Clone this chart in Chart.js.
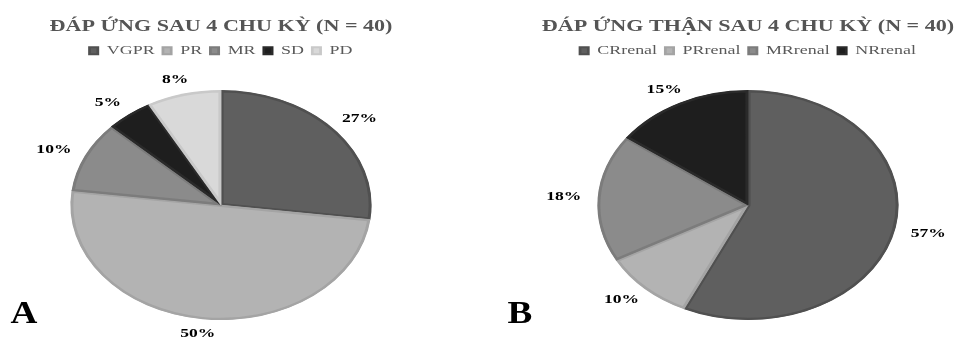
<!DOCTYPE html>
<html><head><meta charset="utf-8">
<script src="https://cdn.jsdelivr.net/npm/chart.js@4/dist/chart.umd.min.js"></script>
<style>
html,body{margin:0;padding:0;background:#fff;}
body{width:956px;height:338px;overflow:hidden;position:relative;}
.panel{position:absolute;top:0;height:360px;}
</style></head><body>
<div class="panel" style="left:0;width:442px"><canvas id="ca"></canvas></div>
<div class="panel" style="left:478px;width:540px"><canvas id="cb"></canvas></div>
<script>
const titleA = 'ĐÁP ỨNG SAU 4 CHU KỲ (N = 40)';
const labelsA = ['VGPR', 'PR', 'MR', 'SD', 'PD'];
const valuesA = [27, 50, 10, 5, 8];
const fillA = ['#5f5f5f', '#b3b3b3', '#8b8b8b', '#1e1e1e', '#d9d9d9'];
const edgeA = ['#505050', '#a4a4a4', '#7c7c7c', '#2a2a2a', '#c9c9c9'];

const titleB = 'ĐÁP ỨNG THẬN SAU 4 CHU KỲ (N = 40)';
const labelsB = ['CRrenal', 'PRrenal', 'MRrenal', 'NRrenal'];
const valuesB = [57, 10, 18, 15];
const fillB = ['#5f5f5f', '#b3b3b3', '#8b8b8b', '#1e1e1e'];
const edgeB = ['#505050', '#a4a4a4', '#7c7c7c', '#2a2a2a'];

const TS = 1.38;   // horizontal stretch of title and legend
const TL = 1.35;   // horizontal stretch of value labels
const ES = 1.31;   // horizontal pie stretch (ellipse)
const FONT = '"Liberation Serif", "Times New Roman", serif';

function stretchPlugin(letter, letterX, letterY) {
  return {
    id: 'stretch',
    beforeDraw(chart) {
      const c = chart.ctx, w = chart.width / 2;
      c.save(); c.translate(w, 0); c.scale(TS, 1); c.translate(-w, 0);
    },
    beforeDatasetsDraw(chart) {
      const c = chart.ctx;
      c.restore();
      const a = chart.getDatasetMeta(0).data[0];
      c.save(); c.translate(a.x, a.y); c.scale(ES, 1); c.translate(-a.x, -a.y);
    },
    afterDatasetsDraw(chart) { chart.ctx.restore(); },
    afterDraw(chart) {
      const c = chart.ctx;
      const meta = chart.getDatasetMeta(0);
      const vals = chart.data.datasets[0].data;
      meta.data.forEach((arc, i) => {
        const p = arc.getProps(['x', 'y', 'startAngle', 'endAngle', 'outerRadius'], true);
        const m = (p.startAngle + p.endAngle) / 2;
        const ex = p.x + ES * p.outerRadius * Math.cos(m);
        const ey = p.y + p.outerRadius * Math.sin(m);
        const lx = ex + Math.cos(m) * 34, ly = ey + Math.sin(m) * 15;
        c.save(); c.translate(lx, ly); c.scale(TL, 1);
        c.font = 'bold 13px ' + FONT; c.fillStyle = '#000';
        c.textAlign = 'center'; c.textBaseline = 'middle';
        c.fillText(vals[i] + '%', 0, 0); c.restore();
      });
      c.save(); c.translate(letterX, letterY); c.scale(1.2, 1);
      c.font = 'bold 31px ' + FONT; c.fillStyle = '#000';
      c.textAlign = 'center'; c.textBaseline = 'alphabetic';
      c.fillText(letter, 0, 0); c.restore();
    }
  };
}

function makeChart(id, title, labels, values, fill, edge, letter, lx) {
  return new Chart(document.getElementById(id), {
    type: 'pie',
    data: {
      labels: labels,
      datasets: [{ data: values, backgroundColor: fill, borderColor: edge,
        borderWidth: 2, borderAlign: 'inner', radius: 115 }]
    },
    options: {
      responsive: true, maintainAspectRatio: false, animation: false, events: [],
      layout: { padding: { bottom: 17 } },
      plugins: {
        title: { display: true, text: title, color: '#555555',
          font: { family: FONT, size: 16, weight: 'bold' }, padding: { top: 17, bottom: 2 } },
        legend: { position: 'top', labels: { boxWidth: 6, boxHeight: 7, padding: 6,
          color: '#595959', font: { family: FONT, size: 13 } } },
        tooltip: { enabled: false }
      }
    },
    plugins: [stretchPlugin(letter, lx, 323)]
  });
}

makeChart('ca', titleA, labelsA, valuesA, fillA, edgeA, 'A', 24);
makeChart('cb', titleB, labelsB, valuesB, fillB, edgeB, 'B', 42);
</script>
</body></html>
